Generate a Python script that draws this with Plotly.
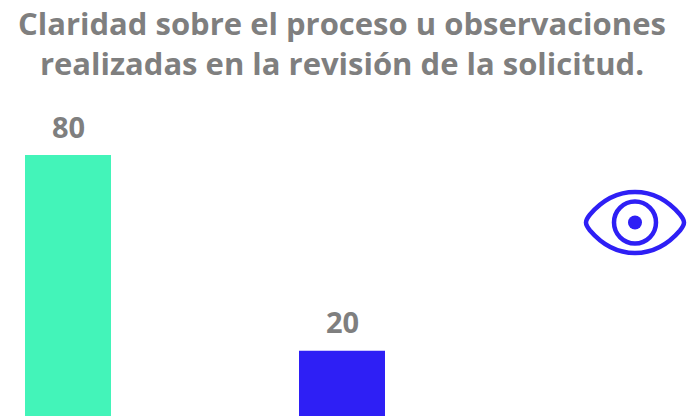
import plotly.graph_objects as go

title_lines = ["Claridad sobre el proceso u observaciones", "realizadas en la revisión de la solicitud."]
positions = [0, 1]
values = [80, 20]
labels = ["80", "20"]
colors = ["#43F4B9", "#2E1FF5"]
GRAY = "#7F7F7F"
BLUE = "#2E1FF5"
W, H = 692, 420
FONT = "Open Sans"

fig = go.Figure(go.Bar(
    x=positions, y=values, width=86 / 274,
    marker=dict(color=colors, line_width=0),
    hoverinfo="skip",
))

eye = ("M -49 0 C -49 -3 -47 -5.5 -45 -8 C -33 -22 -17 -30.5 0 -30.5 C 17 -30.5 33 -22 45 -8 "
       "C 47 -5.5 49 -3 49 0 C 49 3 47 5.5 45 8 C 33 22 17 30.5 0 30.5 C -17 30.5 -33 22 -45 8 "
       "C -47 5.5 -49 3 -49 0 Z")
ax, ay = 635 / W, 1 - 222.5 / H
common = dict(xref="paper", yref="paper", xsizemode="pixel", ysizemode="pixel", xanchor=ax, yanchor=ay)
shapes = [
    dict(type="path", path=eye, line=dict(color=BLUE, width=4.5), **common),
    dict(type="circle", x0=-21, x1=21, y0=-21, y1=21, line=dict(color=BLUE, width=4.5), **common),
    dict(type="circle", x0=-7, x1=7, y0=-7, y1=7, fillcolor=BLUE, line_width=0, **common),
]

annotations = [
    dict(text="<br>".join(title_lines), x=341.5 / W, y=1 - 43 / H, xref="paper", yref="paper", showarrow=False,
         yanchor="middle", font=dict(family=FONT, size=31, color=GRAY, weight=700)),
]
for p, v, t in zip(positions, values, labels):
    annotations.append(dict(text=t, x=p, y=v, xref="x", yref="y", showarrow=False, yshift=29,
                            font=dict(family=FONT, size=29, color=GRAY, weight=700)))

fig.update_layout(
    width=W, height=H, margin=dict(l=0, r=0, t=0, b=0), showlegend=False,
    paper_bgcolor="white", plot_bgcolor="white", shapes=shapes, annotations=annotations,
    xaxis=dict(visible=False, range=[-68 / 274, 624 / 274]),
    yaxis=dict(visible=False, range=[-4 / 3.2625, 416 / 3.2625]),
)
fig.write_html("out.html", config=dict(displayModeBar=False, responsive=False),
               post_script="document.body.style.margin='0';")
